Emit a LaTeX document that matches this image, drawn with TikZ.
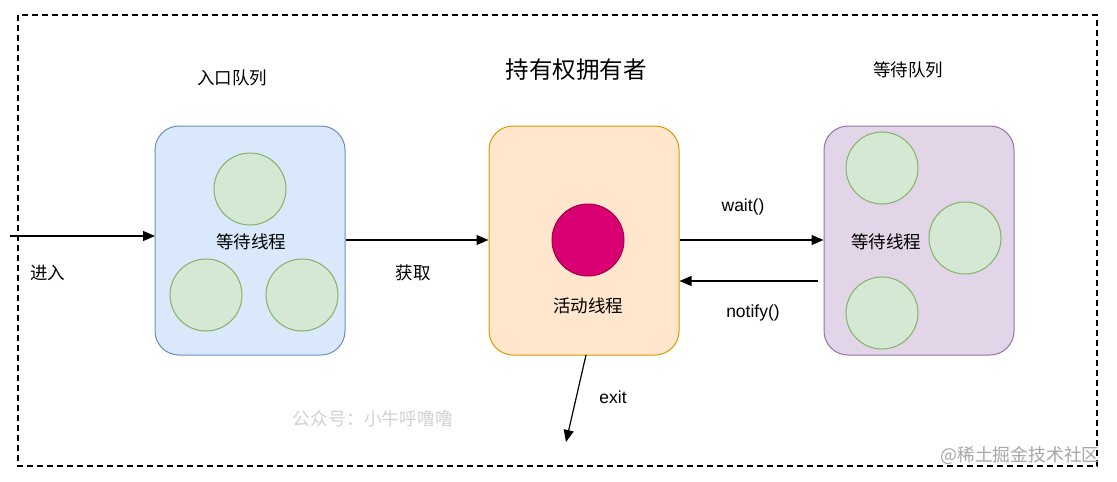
\documentclass[tikz,border=0pt]{standalone}
\usepackage{fontspec}
\setmainfont{Liberation Sans}
\newfontfamily\cjk{Noto Sans CJK SC}
\usetikzlibrary{arrows.meta}
\definecolor{bluef}{HTML}{DAE8FC}\definecolor{blues}{HTML}{6C8EBF}
\definecolor{orf}{HTML}{FFE6CC}\definecolor{ors}{HTML}{D79B00}
\definecolor{puf}{HTML}{E1D5E7}\definecolor{pus}{HTML}{9673A6}
\definecolor{grf}{HTML}{D5E8D4}\definecolor{grs}{HTML}{82B366}
\definecolor{rdf}{HTML}{D80073}\definecolor{rds}{HTML}{A50040}
\tikzset{
  box/.style={draw, line width=1pt, rounded corners=24pt, minimum width=190pt, minimum height=229pt},
  thread/.style={circle, draw=grs, fill=grf, line width=1pt, minimum size=72pt, inner sep=0pt},
  lbl/.style={font=\cjk\fontsize{17.5}{20}\selectfont, inner sep=1pt},
  elbl/.style={font=\fontsize{17.5}{20}\selectfont, inner sep=1pt},
  conn/.style={line width=1.2pt, -{Triangle[length=12pt,width=10pt]}},
  wm/.style={font=\cjk\fontsize{17.8}{20}\selectfont, inner sep=0pt}
}
\begin{document}
\begin{tikzpicture}[x=1pt,y=-1pt]
\useasboundingbox (0,0) rectangle (1117,482);
\draw[dashed, line width=1.1pt, dash pattern=on 6pt off 4pt] (18,15) rectangle (1097,466);
% boxes
\node[box, draw=blues, fill=bluef] (entry) at (250,240.5) {};
\node[box, draw=ors, fill=orf] (owner) at (584,240.5) {};
\node[box, draw=pus, fill=puf] (wait) at (919,240.5) {};
% circles
\node[thread] (e1) at (250,189) {};
\node[thread] (e2) at (206,295) {};
\node[thread] (e3) at (302,295) {};
\node[thread] (w1) at (882,168) {};
\node[thread] (w2) at (965,238) {};
\node[thread] (w3) at (882,313) {};
\node[circle, draw=rds, fill=rdf, line width=1pt, minimum size=72pt, inner sep=0pt] (act) at (588,240) {};
% texts
\node[lbl] (t1) at (251,242) {等待线程};
\node[lbl] (t2) at (588,306) {活动线程};
\node[lbl] (t3) at (886,242) {等待线程};
\node[lbl] (h1) at (232,78) {入口队列};
\node[font=\cjk\fontsize{23.5}{26}\selectfont] (h2) at (576,70) {持有权拥有者};
\node[lbl] (h3) at (908,70) {等待队列};
% connectors
\coordinate (in) at (10,236);
\coordinate (entryin) at (155,236);
\draw[conn] (in) -- (entryin);
\node[lbl] (l1) at (48,273) {进入};
\draw[conn] (entry.east |- 0,240) -- (owner.west |- 0,240);
\node[lbl] (l2) at (413,273) {获取};
\draw[conn] (owner.east |- 0,240) -- (wait.west |- 0,240);
\node[elbl] (l3) at (743,207) {wait()};
\coordinate (nfrom) at (818,281);
\draw[conn] (nfrom) -- (owner.east |- 0,281);
\node[elbl] (l4) at (753,313) {notify()};
\coordinate (exitend) at (566,442);
\draw[conn] (owner.south |- 0,355) ++(2,0) coordinate (exs) -- (exitend);
\node[elbl] (l5) at (613,397) {exit};
% watermarks
\node[wm, text=black!18] (wm1) at (373,419) {公众号：小牛呼噜噜};
\node[wm, text=black!35] (wm2) at (1020,455) {@稀土掘金技术社区};
\end{tikzpicture}
\end{document}
